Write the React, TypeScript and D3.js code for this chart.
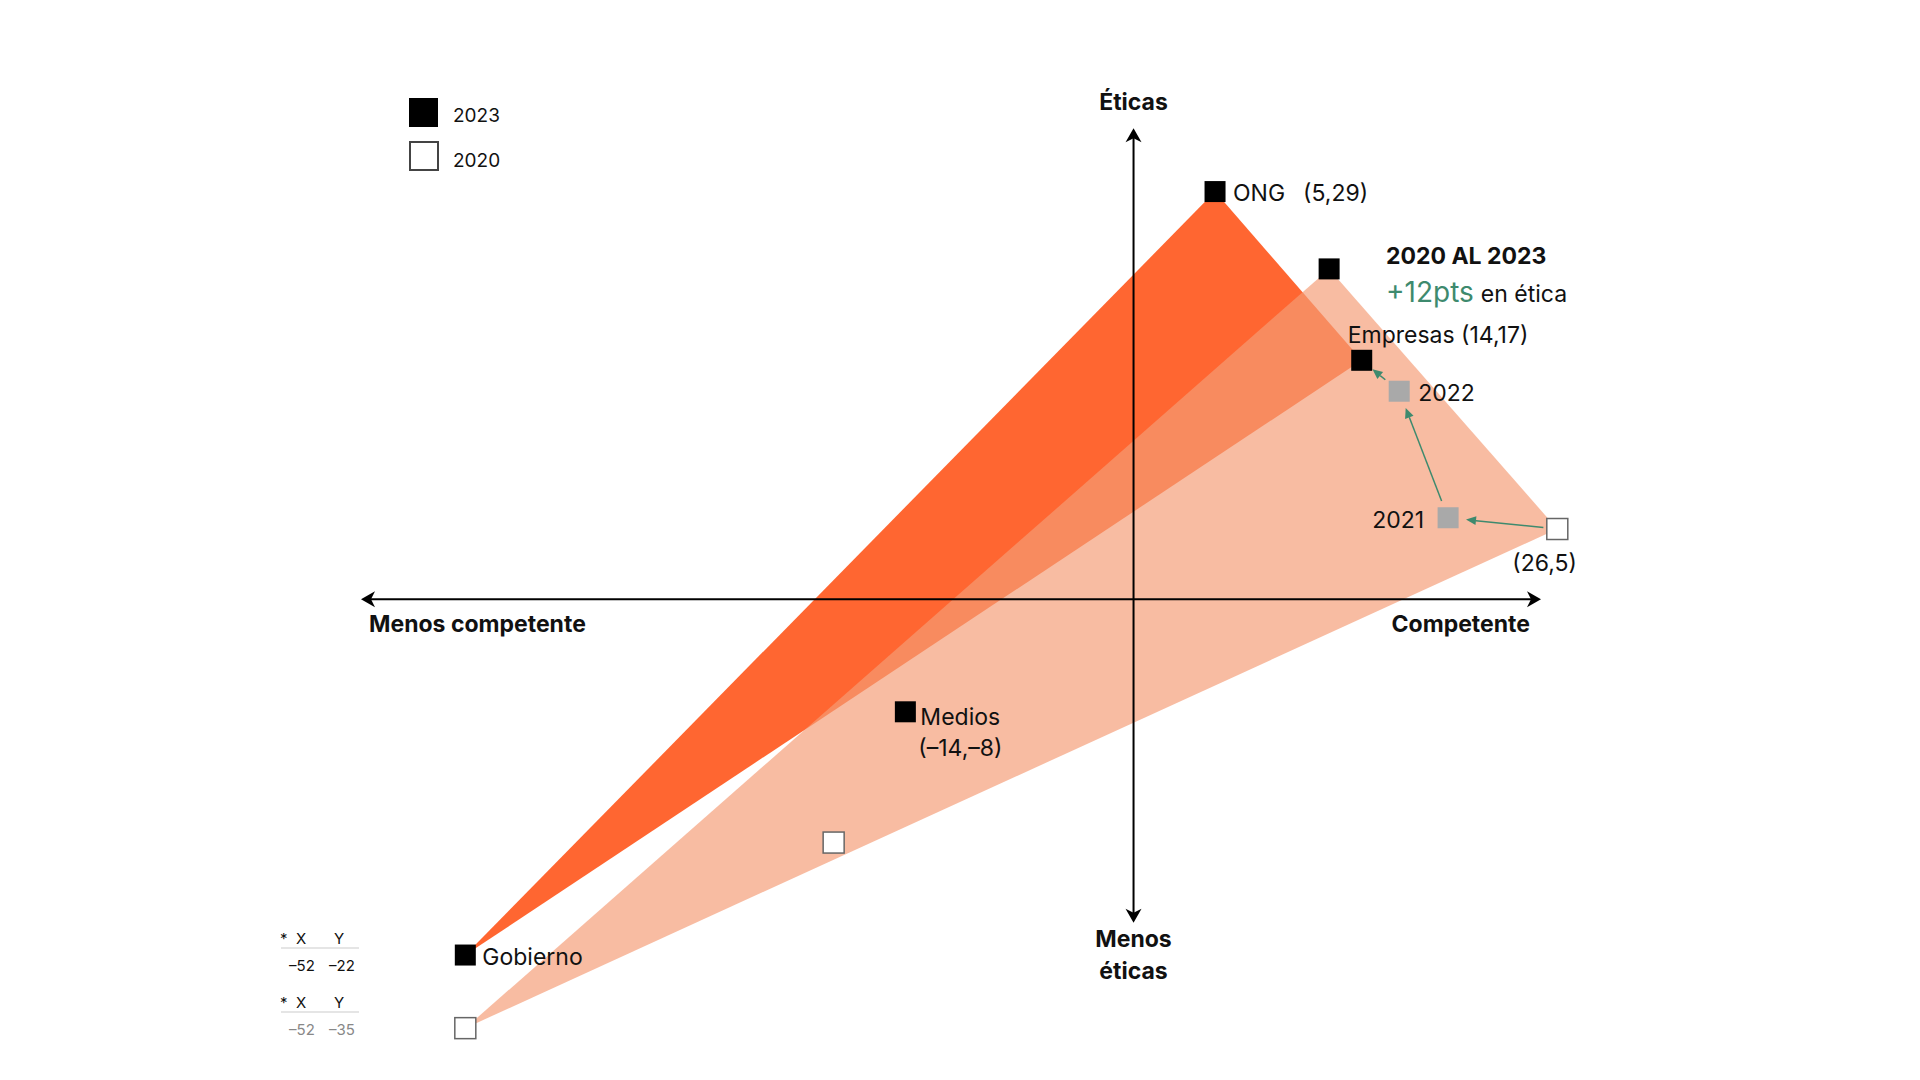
import React from "react";
import * as d3 from "d3";

// ---------- data ----------
const legendYears = ["2023", "2020"];
const sectors = ["ONG", "Empresas", "Medios", "Gobierno"];
const competencia2023 = [5, 14, -14, -52];
const etica2023 = [29, 17, -8, -22];
const competencia2020 = [12, 26, -18.4, -52];
const etica2020 = [23.5, 5, -17.3, -35];
// Gobierno is off the scale: it is drawn at the chart's edge, with its true values in a footnote
const gobiernoShownCompetencia = -41;
const gobiernoShownEtica = [-25.3, -30.5]; // 2023, 2020
const trajYears = ["2020", "2021", "2022", "2023"];
const trajCompetencia = [26, 19.3, 16.3, 14];
const trajEtica = [5, 5.8, 14.8, 17];
const xAxisDomain = [-47.4, 25];
const yAxisDomain = [-23, 33.5];
const axisLeft = "Menos competente";
const axisRight = "Competente";
const axisTop = "Éticas";
const axisBottom = ["Menos", "éticas"];
const highlightTitle = "2020 AL 2023";
const highlightValue = "+12pts";
const highlightText = "en ética";

const FONT = "Inter, Lato, sans-serif";
const DARK = "#FF6631";
const LIGHT = "#F59C76";
const GREEN = "#3E8A6E";
const MS = 21; // marker size

export default function App() {
  const x = d3.scaleLinear().domain(xAxisDomain).range([361, 1541]);
  const y = d3.scaleLinear().domain(yAxisDomain).range([922.7, 128.3]);

  const gi = sectors.indexOf("Gobierno");
  const pos = (i: number, year: number): [number, number] => {
    if (i === gi) {
      return [x(gobiernoShownCompetencia), y(gobiernoShownEtica[year === 2023 ? 0 : 1])];
    }
    return year === 2023
      ? [x(competencia2023[i]), y(etica2023[i])]
      : [x(competencia2020[i]), y(etica2020[i])];
  };
  const ongI = sectors.indexOf("ONG");
  const empI = sectors.indexOf("Empresas");
  const medI = sectors.indexOf("Medios");

  const poly = d3.line<[number, number]>().curve(d3.curveLinearClosed);
  const tri2023 = [pos(ongI, 2023), pos(empI, 2023), pos(gi, 2023)];
  const tri2020 = [pos(ongI, 2020), pos(empI, 2020), pos(gi, 2020)];

  const x0 = x(0);
  const y0 = y(0);
  const [xl, xr] = x.range();
  const [yb, yt] = y.range();

  const traj = trajYears.map((_, i) => [x(trajCompetencia[i]), y(trajEtica[i])] as [number, number]);
  const arrows = traj.slice(0, -1).map((a, i) => {
    const b = traj[i + 1];
    const dx = b[0] - a[0];
    const dy = b[1] - a[1];
    const L = Math.hypot(dx, dy);
    const ux = dx / L, uy = dy / L;
    const s0 = i === 0 ? 14 : 18;
    const s1 = i === 2 ? 14 : 18;
    const p0 = [a[0] + ux * s0, a[1] + uy * s0];
    const p1 = [b[0] - ux * s1, b[1] - uy * s1];
    const hl = 10, hw = 4.5;
    const base = [p1[0] - ux * hl, p1[1] - uy * hl];
    const head = `M${p1[0]},${p1[1]}L${base[0] - uy * hw},${base[1] + ux * hw}L${base[0] + uy * hw},${base[1] - ux * hw}Z`;
    return { p0, base, head };
  });

  const sq = (c: [number, number], fill: string, stroke?: string) => (
    <rect
      x={c[0] - MS / 2}
      y={c[1] - MS / 2}
      width={MS}
      height={MS}
      fill={fill}
      stroke={stroke || "none"}
      strokeWidth={stroke ? 1.5 : 0}
    />
  );

  const ong23 = pos(ongI, 2023);
  const emp23 = pos(empI, 2023);
  const emp20 = pos(empI, 2020);
  const med23 = pos(medI, 2023);
  const gob23 = pos(gi, 2023);
  const gob20 = pos(gi, 2020);

  const fmt = (v: number) => (v < 0 ? "–" + Math.abs(v) : String(v));
  const ah = 14, aw = 8; // axis arrowheads

  return (
    <svg
      width={1920}
      height={1080}
      style={{ position: "absolute", left: 0, top: 0, background: "#fff" }}
      fontFamily={FONT}
    >
      {/* triangles */}
      <path d={poly(tri2023) || ""} fill={DARK} />
      <path d={poly(tri2020) || ""} fill={LIGHT} fillOpacity={0.68} />

      {/* axes */}
      <g stroke="#000" strokeWidth={2}>
        <line x1={xl + 6} y1={y0} x2={xr - 6} y2={y0} />
        <line x1={x0} y1={yt + 6} x2={x0} y2={yb - 6} />
      </g>
      <g fill="#000">
        <path d={`M${xl},${y0}L${xl + ah},${y0 - aw}L${xl + ah - 4},${y0}L${xl + ah},${y0 + aw}Z`} />
        <path d={`M${xr},${y0}L${xr - ah},${y0 - aw}L${xr - ah + 4},${y0}L${xr - ah},${y0 + aw}Z`} />
        <path d={`M${x0},${yt}L${x0 - aw},${yt + ah}L${x0},${yt + ah - 4}L${x0 + aw},${yt + ah}Z`} />
        <path d={`M${x0},${yb}L${x0 - aw},${yb - ah}L${x0},${yb - ah + 4}L${x0 + aw},${yb - ah}Z`} />
      </g>
      <g fontWeight={700} fontSize={23} fill="#111">
        <text x={369} y={632}>{axisLeft}</text>
        <text x={1530} y={632} textAnchor="end">{axisRight}</text>
        <text x={x0} y={110} textAnchor="middle">{axisTop}</text>
        <text x={x0} y={947} textAnchor="middle">{axisBottom[0]}</text>
        <text x={x0} y={979} textAnchor="middle">{axisBottom[1]}</text>
      </g>

      {/* trajectory arrows */}
      {arrows.map((a, i) => (
        <g key={i}>
          <line x1={a.p0[0]} y1={a.p0[1]} x2={a.base[0]} y2={a.base[1]} stroke={GREEN} strokeWidth={1.5} />
          <path d={a.head} fill={GREEN} />
        </g>
      ))}

      {/* markers 2020 (ONG's 2020 vertex is drawn black as in the original) */}
      {sq(pos(ongI, 2020), "#000")}
      {sq(emp20, "#fff", "#666")}
      {sq(pos(medI, 2020), "#fff", "#666")}
      {sq(gob20, "#fff", "#666")}
      {/* intermediate years */}
      {traj.slice(1, -1).map((p, i) => (
        <g key={i}>{sq(p, "#A9A9A9")}</g>
      ))}
      {/* markers 2023 */}
      {sq(ong23, "#000")}
      {sq(emp23, "#000")}
      {sq(med23, "#000")}
      {sq(gob23, "#000")}

      {/* labels */}
      <g fontSize={23} fill="#111">
        <text x={ong23[0] + 18} y={ong23[1] + 9}>{sectors[ongI]}</text>
        <text x={ong23[0] + 88} y={ong23[1] + 9}>
          ({competencia2023[ongI]},{etica2023[ongI]})
        </text>
        <text x={emp23[0] - 14} y={emp23[1] - 17}>
          {sectors[empI]} ({competencia2023[empI]},{etica2023[empI]})
        </text>
        <text x={traj[2][0] + 19} y={traj[2][1] + 10}>{trajYears[2]}</text>
        <text x={traj[1][0] - 24} y={traj[1][1] + 10} textAnchor="end">{trajYears[1]}</text>
        <text x={emp20[0] - 45} y={emp20[1] + 42}>
          ({competencia2020[empI]},{etica2020[empI]})
        </text>
        <text x={med23[0] + 15} y={med23[1] + 13}>{sectors[medI]}</text>
        <text x={med23[0] + 13} y={med23[1] + 44}>
          ({fmt(competencia2023[medI])},{fmt(etica2023[medI])})
        </text>
        <text x={gob23[0] + 17} y={gob23[1] + 10}>{sectors[gi]}</text>
      </g>

      {/* highlight */}
      <text x={1386} y={264} fontSize={23} fontWeight={700} fill="#111">{highlightTitle}</text>
      <text x={1386} y={302} fill="#111">
        <tspan fontSize={28} fill={GREEN}>{highlightValue}</tspan>
        <tspan fontSize={23} dx={7}>{highlightText}</tspan>
      </text>

      {/* legend */}
      <rect x={409} y={98} width={29} height={29} fill="#000" />
      <rect x={410} y={142} width={28} height={28} fill="#fff" stroke="#444" strokeWidth={2} />
      <text x={453} y={122} fontSize={19} fill="#111">{legendYears[0]}</text>
      <text x={453} y={167} fontSize={19} fill="#111">{legendYears[1]}</text>

      {/* footnote for Gobierno's true values */}
      {[0, 1].map((k) => {
        const by = 944 + k * 64;
        const vals = k === 0 ? [competencia2023[gi], etica2023[gi]] : [competencia2020[gi], etica2020[gi]];
        return (
          <g key={k} fontSize={15}>
            <text x={280} y={by} fill="#111">*</text>
            <text x={301} y={by} textAnchor="middle" fill="#111">X</text>
            <text x={339} y={by} textAnchor="middle" fill="#111">Y</text>
            <line x1={281} x2={359} y1={by + 4} y2={by + 4} stroke="#ddd" strokeWidth={1.5} />
            <text x={302} y={by + 27} textAnchor="middle" fill={k === 0 ? "#111" : "#888"}>{fmt(vals[0])}</text>
            <text x={342} y={by + 27} textAnchor="middle" fill={k === 0 ? "#111" : "#888"}>{fmt(vals[1])}</text>
          </g>
        );
      })}
    </svg>
  );
}
